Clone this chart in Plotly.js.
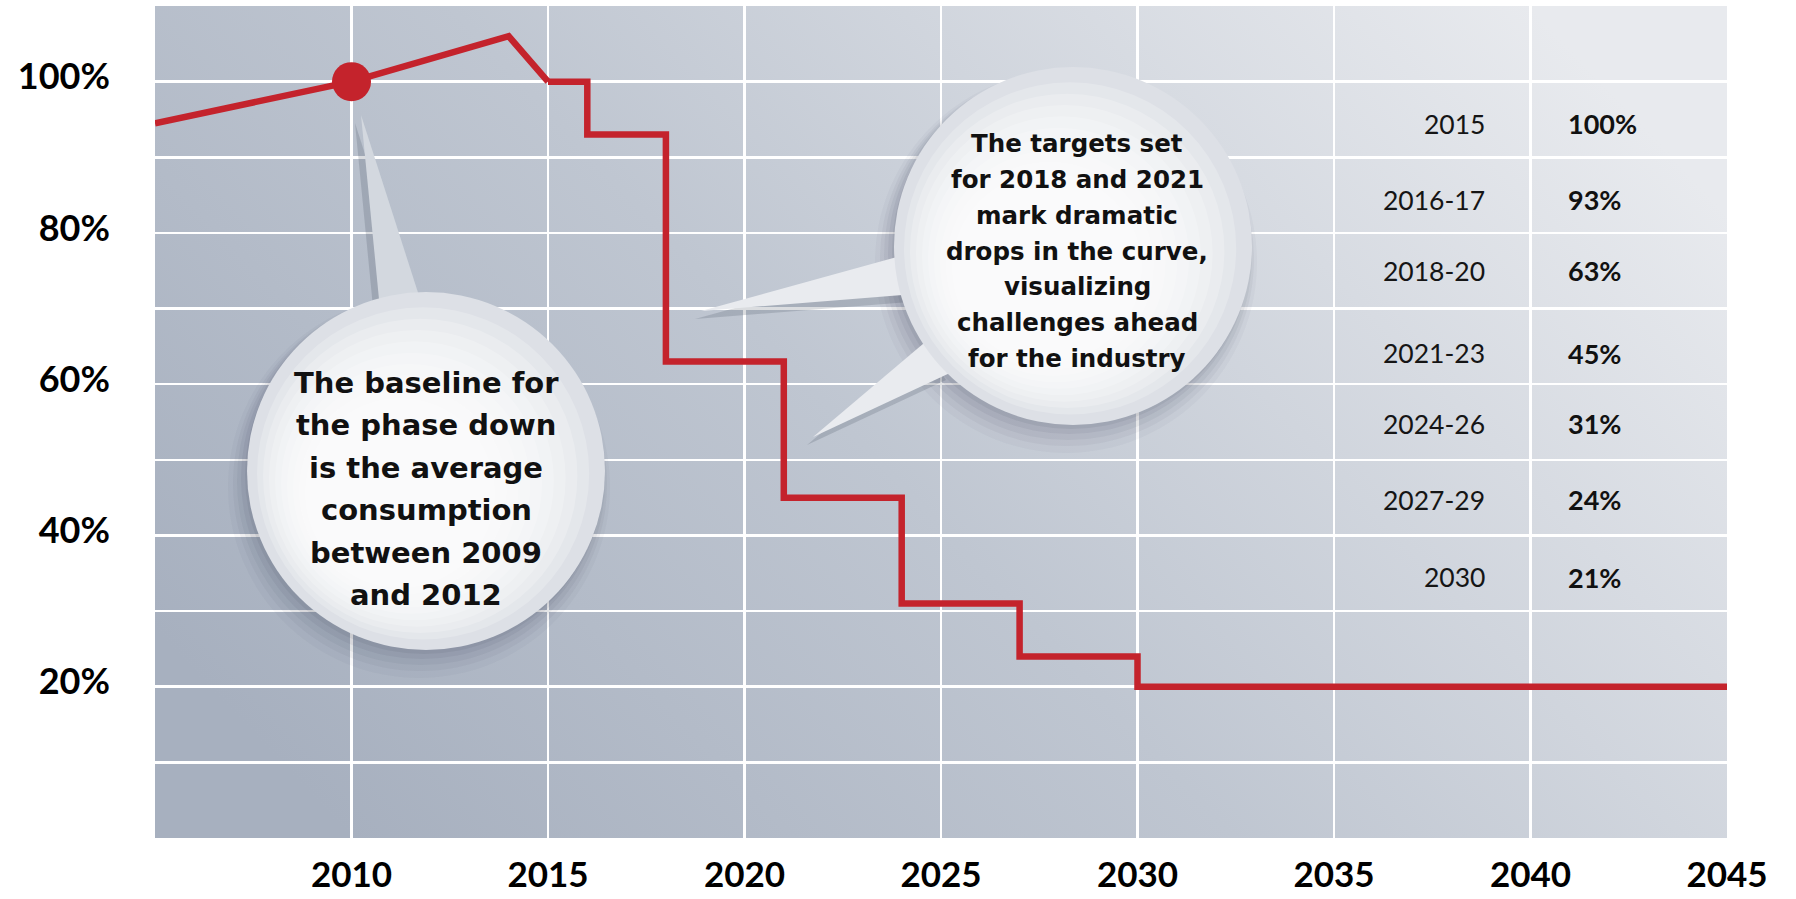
<!DOCTYPE html>
<html>
<head>
<meta charset="utf-8">
<script src="https://cdn.plot.ly/plotly-3.0.1.min.js"></script>
<style>
  html, body { margin: 0; padding: 0; background: #ffffff; }
  #chart { width: 1796px; height: 899px; }
</style>
</head>
<body>
<div id="chart"></div>
<script>
// ---------- DATA ----------
const trendYears = [2005, 2010, 2014, 2015];
const trendValues = [94.5, 100, 106, 100];
const stepYears = [2015, 2016, 2018, 2021, 2024, 2027, 2030, 2045];
const stepValues = [100, 93, 63, 45, 31, 24, 20, 20];
const baselineYear = [2010];
const baselineValue = [100];
const xTickYears = [2005, 2010, 2015, 2020, 2025, 2030, 2035, 2040, 2045];
const xTickLabels = ['', '2010', '2015', '2020', '2025', '2030', '2035', '2040', '2045'];
const yTickValues = [0, 10, 20, 30, 40, 50, 60, 70, 80, 90, 100, 110];
const yTickLabels = ['', '', '20%', '', '40%', '', '60%', '', '80%', '', '100%', ''];
const tablePeriods = ['2015', '2016-17', '2018-20', '2021-23', '2024-26', '2027-29', '2030'];
const tableTargets = ['100%', '93%', '63%', '45%', '31%', '24%', '21%'];
const noteBaselineLines = ['The baseline for', 'the phase down', 'is the average', 'consumption', 'between 2009', 'and 2012'];
const noteTargetsLines = ['The targets set', 'for 2018 and 2021', 'mark dramatic', 'drops in the curve,', 'visualizing', 'challenges ahead', 'for the industry'];

// ---------- LAYOUT GEOMETRY ----------
const W = 1796, H = 899;
const M = { l: 155, r: 69, t: 6, b: 61 };
const PW = W - M.l - M.r, PH = H - M.t - M.b;
const XR = [2005, 2045], YR = [0, 110];
function X(px) { return XR[0] + (px - M.l) * (XR[1] - XR[0]) / PW; }
function Y(py) { return YR[0] + (H - M.b - py) * (YR[1] - YR[0]) / PH; }
function circle(cx, cy, r, fill) {
  return { type: 'circle', xref: 'x', yref: 'y', layer: 'above',
    x0: X(cx - r), x1: X(cx + r), y0: Y(cy + r), y1: Y(cy - r),
    fillcolor: fill, line: { width: 0 } };
}
function poly(pts, fill) {
  const d = pts.map((p, i) => (i ? 'L' : 'M') + X(p[0]) + ',' + Y(p[1])).join(' ') + ' Z';
  return { type: 'path', xref: 'x', yref: 'y', layer: 'above', path: d,
    fillcolor: fill, line: { width: 0 } };
}
function bubble(cx, cy, r, tails) {
  const s = [];
  // soft drop shadow
  [[-7, 16, 12, 0.035], [-6, 13, 8, 0.05], [-5, 10, 5, 0.06], [-4, 7, 2, 0.07], [-2, 4, 0, 0.08]].forEach(o => {
    s.push(circle(cx + o[0], cy + o[1], r + o[2], 'rgba(50,60,80,' + o[3] + ')'));
  });
  // tails with shadow
  tails.forEach(t => {
    s.push(poly(t.pts.map(p => [p[0] - 6, p[1] + 8]), 'rgba(50,60,80,0.18)'));
    s.push(poly(t.pts, t.fill));
  });
  // body with soft gradient: grey rim top-right, white lower-left
  s.push(circle(cx, cy, r, '#dde0e6'));
  const steps = 9;
  for (let i = 1; i <= steps; i++) {
    const k = i / steps;
    s.push(circle(cx - 26 * k, cy + 22 * k, r - 4 - 80 * k, 'rgba(255,255,255,0.22)'));
  }
  return s;
}

const shapes = []
  .concat(bubble(426, 471, 179, [{ pts: [[361, 115], [382, 330], [430, 330]], fill: '#d3d8df' }]))
  .concat(bubble(1073, 246, 179, [
    { pts: [[701, 311], [915, 252], [915, 294]], fill: '#e9ebef' },
    { pts: [[813, 437], [930, 338], [952, 372]], fill: '#e9ebef' }
  ]));

const bgSvg = "<svg xmlns='http://www.w3.org/2000/svg' width='200' height='100' preserveAspectRatio='none' viewBox='0 0 200 100'>" +
  "<defs><linearGradient id='g' x1='0' y1='0.75' x2='1' y2='0.25'>" +
  "<stop offset='0' stop-color='#a7b0bf'/><stop offset='0.45' stop-color='#bfc6d1'/>" +
  "<stop offset='1' stop-color='#e8eaee'/></linearGradient></defs>" +
  "<rect width='200' height='100' fill='url(#g)'/></svg>";

const FONT = 'Lato, "Open Sans", sans-serif';
const NOTE_FONT = '"DejaVu Sans", Lato, sans-serif';
const annotations = [];
function noteLines(lines, cx, cy, spacing, size) {
  lines.forEach((t, i) => {
    const py = cy + (i - (lines.length - 1) / 2) * spacing;
    annotations.push({ x: X(cx), y: Y(py), xref: 'x', yref: 'y', text: t, showarrow: false,
      xanchor: 'center', yanchor: 'middle',
      font: { family: NOTE_FONT, size: size, color: '#111111', weight: 700 } });
  });
}
noteLines(noteBaselineLines, 426, 489, 42.4, 29);
noteLines(noteTargetsLines, 1077, 251, 35.9, 24.5);

const tableRowY = [94.4, 84.4, 75.0, 64.1, 54.8, 44.7, 34.5];
tablePeriods.forEach((p, i) => {
  annotations.push({ x: 2040, y: tableRowY[i], xref: 'x', yref: 'y', text: p, showarrow: false,
    xanchor: 'right', xshift: -44, font: { family: FONT, size: 26.5, color: '#151515' } });
  annotations.push({ x: 2040, y: tableRowY[i], xref: 'x', yref: 'y', text: tableTargets[i], showarrow: false,
    xanchor: 'left', xshift: 35, font: { family: FONT, size: 27, color: '#111111', weight: 700 } });
});

const RED = '#c4232c';
const traces = [
  { type: 'scatter', mode: 'lines', x: trendYears, y: trendValues,
    line: { color: RED, width: 6.5 }, hoverinfo: 'skip', showlegend: false },
  { type: 'scatter', mode: 'lines', x: stepYears, y: stepValues,
    line: { color: RED, width: 6.5, shape: 'hv' }, hoverinfo: 'skip', showlegend: false },
  { type: 'scatter', mode: 'markers', x: baselineYear, y: baselineValue,
    marker: { color: RED, size: 39 }, hoverinfo: 'skip', showlegend: false }
];

const layout = {
  width: W, height: H,
  margin: M,
  paper_bgcolor: '#ffffff',
  plot_bgcolor: '#c3cad4',
  showlegend: false,
  font: { family: FONT, color: '#000000' },
  xaxis: {
    range: XR, tickmode: 'array', tickvals: xTickYears, ticktext: xTickLabels,
    showgrid: true, gridcolor: '#ffffff', gridwidth: 2.5, zeroline: false, showline: false,
    ticks: '', ticklabelstandoff: 13,
    tickfont: { family: FONT, size: 35, color: '#000000', weight: 700 }
  },
  yaxis: {
    range: YR, tickmode: 'array', tickvals: yTickValues, ticktext: yTickLabels,
    showgrid: true, gridcolor: '#ffffff', gridwidth: 2.5, zeroline: false, showline: false,
    ticks: '', ticklabelstandoff: 44, ticklabelshift: -5,
    tickfont: { family: FONT, size: 36, color: '#000000', weight: 700 }
  },
  images: [{
    source: 'data:image/svg+xml;charset=utf-8,' + encodeURIComponent(bgSvg),
    xref: 'paper', yref: 'paper', x: 0, y: 1, sizex: 1, sizey: 1,
    sizing: 'stretch', xanchor: 'left', yanchor: 'top', layer: 'below'
  }],
  shapes: shapes,
  annotations: annotations
};

Plotly.newPlot('chart', traces, layout, { displayModeBar: false, staticPlot: true });
</script>
</body>
</html>
